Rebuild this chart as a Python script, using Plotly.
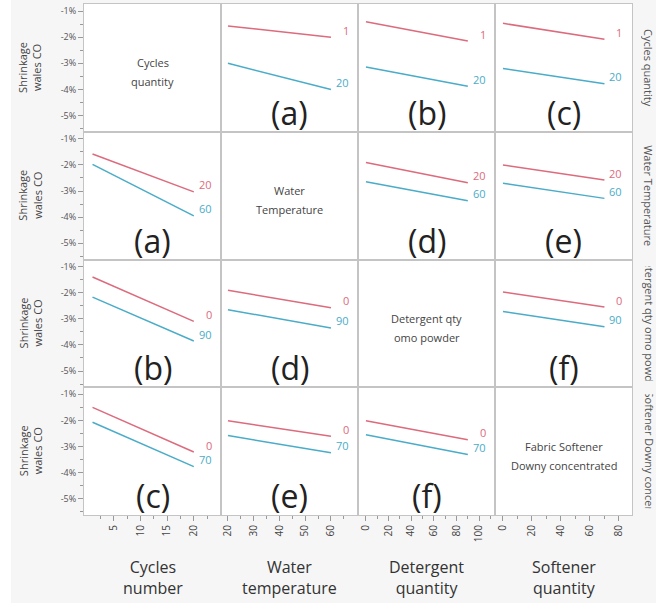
import plotly.graph_objects as go
from plotly.subplots import make_subplots

# ---------------- data ----------------
factor_names = ["Cycles quantity", "Water Temperature",
                "Detergent qty omo powder", "Fabric Softener Downy concentrated"]
diag_line1 = ["Cycles", "Water", "Detergent qty", "Fabric Softener"]
diag_line2 = ["quantity", "Temperature", "omo powder", "Downy concentrated"]
x_titles = ["Cycles<br>number", "Water<br>temperature", "Detergent<br>quantity", "Softener<br>quantity"]

# levels of each factor (low = red line, high = blue line); also x end points of the lines
levels = [[1, 20], [20, 60], [0, 90], [0, 70]]

# shrinkage (%) at start / end of each line, per column (None on the diagonal)
cyc_lo = [None, (-1.57, -2.00), (-1.41, -2.15), (-1.47, -2.08)]
cyc_hi = [None, (-3.00, -4.00), (-3.14, -3.88), (-3.20, -3.78)]
temp_lo = [(-1.58, -3.03), None, (-1.91, -2.68), (-2.00, -2.58)]
temp_hi = [(-1.98, -3.95), None, (-2.64, -3.37), (-2.70, -3.28)]
det_lo = [(-1.40, -3.10), (-1.91, -2.58), None, (-1.97, -2.55)]
det_hi = [(-2.17, -3.85), (-2.65, -3.35), None, (-2.72, -3.30)]
soft_lo = [(-1.50, -3.21), (-2.01, -2.61), (-2.01, -2.74), None]
soft_hi = [(-2.07, -3.77), (-2.58, -3.24), (-2.55, -3.30), None]

rows_lo = [cyc_lo, temp_lo, det_lo, soft_lo]
rows_hi = [cyc_hi, temp_hi, det_hi, soft_hi]

cell_letters = [[None, "(a)", "(b)", "(c)"],
                ["(a)", None, "(d)", "(e)"],
                ["(b)", "(d)", None, "(f)"],
                ["(c)", "(e)", "(f)", None]]

x_ranges = [[-0.6, 25.1], [17.3, 70.5], [-7, 114], [-5.5, 89]]
x_tickvals = [[5, 10, 15, 20], [20, 30, 40, 50, 60], [0, 20, 40, 60, 80, 100], [0, 20, 40, 60, 80]]
x_minorvals = [[2.5, 7.5, 12.5, 17.5, 22.5], [25, 35, 45, 55, 65],
               [10, 30, 50, 70, 90, 110], [10, 30, 50, 70]]
y_range = [-5.62, -0.73]
y_tickvals = [-1, -2, -3, -4, -5]
y_ticktext = ["-1%", "-2%", "-3%", "-4%", "-5%"]
y_minorvals = [-1.5, -2.5, -3.5, -4.5, -5.5]

RED = "#dc6b7d"
BLUE = "#4aacc8"
FONT = "Open Sans"

# ---------------- figure ----------------
W, H = 656, 603
ML, MR, MT, MB = 84, 24, 4, 88
PW = W - ML - MR
PH = H - MT - MB

fig = make_subplots(rows=4, cols=4, horizontal_spacing=0, vertical_spacing=0)

def px_x(p):
    return (p - ML) / PW

def px_y(p):
    return 1 - (p - MT) / PH

ann = []
for r in range(4):
    for c in range(4):
        n = r * 4 + c + 1
        xref = "x" if n == 1 else f"x{n}"
        yref = "y" if n == 1 else f"y{n}"
        if r == c:
            fig.add_trace(go.Scatter(x=levels[c], y=[None, None], mode="lines",
                                     showlegend=False, hoverinfo="skip"),
                          row=r + 1, col=c + 1)
            ann.append(dict(xref=f"{xref} domain", yref=f"{yref} domain", x=0.5, y=0.5,
                            xanchor="center", yanchor="middle",
                            text=diag_line1[r], showarrow=False, yshift=5,
                            font=dict(family=FONT, size=11, color="#444")))
            ann.append(dict(xref=f"{xref} domain", yref=f"{yref} domain", x=0.5, y=0.5,
                            xanchor="center", yanchor="middle",
                            text=diag_line2[r], showarrow=False, yshift=-14,
                            font=dict(family=FONT, size=11, color="#444")))
        else:
            xs = levels[c]
            for vals, col, lev in ((rows_lo[r][c], RED, levels[r][0]),
                                   (rows_hi[r][c], BLUE, levels[r][1])):
                fig.add_trace(go.Scatter(x=xs, y=list(vals), mode="lines",
                                         line=dict(color=col, width=1.5),
                                         showlegend=False, hoverinfo="skip"),
                              row=r + 1, col=c + 1)
                ann.append(dict(xref=xref, yref=yref, x=xs[1], y=vals[1], text=str(lev),
                                showarrow=False, xanchor="right", yanchor="middle",
                                xshift=20, yshift=7,
                                font=dict(family=FONT, size=11, color=col)))
            ann.append(dict(xref=f"{xref} domain", yref=f"{yref} domain", x=0.5, y=0,
                            text=cell_letters[r][c], showarrow=False,
                            xanchor="center", yanchor="bottom",
                            yshift=-4, font=dict(family=FONT, size=32, color="#222")))

        fig.update_xaxes(range=x_ranges[c], showgrid=False, zeroline=False,
                         showline=True, mirror=True, linecolor="#c4c4c4", linewidth=1,
                         row=r + 1, col=c + 1)
        fig.update_yaxes(range=y_range, showgrid=False, zeroline=False,
                         showline=True, mirror=True, linecolor="#c4c4c4", linewidth=1,
                         row=r + 1, col=c + 1)
        if r == 3:
            fig.update_xaxes(tickvals=x_tickvals[c], ticks="outside", ticklen=5,
                             tickcolor="#999", tickangle=-90,
                             tickfont=dict(family=FONT, size=10, color="#444"),
                             minor=dict(tickvals=x_minorvals[c], ticks="outside",
                                        ticklen=3, tickcolor="#999"),
                             row=r + 1, col=c + 1)
        else:
            fig.update_xaxes(showticklabels=False, ticks="", row=r + 1, col=c + 1)
        if c == 0:
            fig.update_yaxes(tickvals=y_tickvals, ticktext=y_ticktext, ticks="outside",
                             ticklen=5, tickcolor="#999",
                             tickfont=dict(family=FONT, size=9, color="#555"),
                             minor=dict(tickvals=y_minorvals, ticks="outside",
                                        ticklen=3, tickcolor="#999"),
                             row=r + 1, col=c + 1)
        else:
            fig.update_yaxes(showticklabels=False, ticks="", row=r + 1, col=c + 1)

row_h = PH / 4
col_w = PW / 4
for r in range(4):
    yc = px_y(MT + row_h * (r + 0.5))
    ann.append(dict(xref="paper", yref="paper", x=px_x(30), y=yc,
                    xanchor="center", yanchor="middle",
                    text="Shrinkage<br>wales CO", showarrow=False, textangle=-90,
                    font=dict(family=FONT, size=11, color="#444")))
    ann.append(dict(xref="paper", yref="paper", x=px_x(649), y=yc,
                    xanchor="center", yanchor="middle",
                    text=factor_names[r], showarrow=False, textangle=90,
                    width=114, height=16,
                    font=dict(family=FONT, size=11, color="#555")))
for c in range(4):
    ann.append(dict(xref="paper", yref="paper", x=px_x(ML + col_w * (c + 0.5)), y=px_y(577),
                    xanchor="center", yanchor="middle",
                    text=x_titles[c], showarrow=False,
                    font=dict(family=FONT, size=16, color="#333")))

fig.update_layout(
    width=W, height=H,
    margin=dict(l=ML, r=MR, t=MT, b=MB),
    paper_bgcolor="#f6f6f6", plot_bgcolor="white",
    annotations=ann,
    shapes=[dict(type="rect", xref="paper", yref="paper",
                 x0=px_x(-2), x1=px_x(11), y0=px_y(-2), y1=px_y(H + 2),
                 fillcolor="white", line=dict(width=0), layer="below")],
)

fig.write_html("out.html")
